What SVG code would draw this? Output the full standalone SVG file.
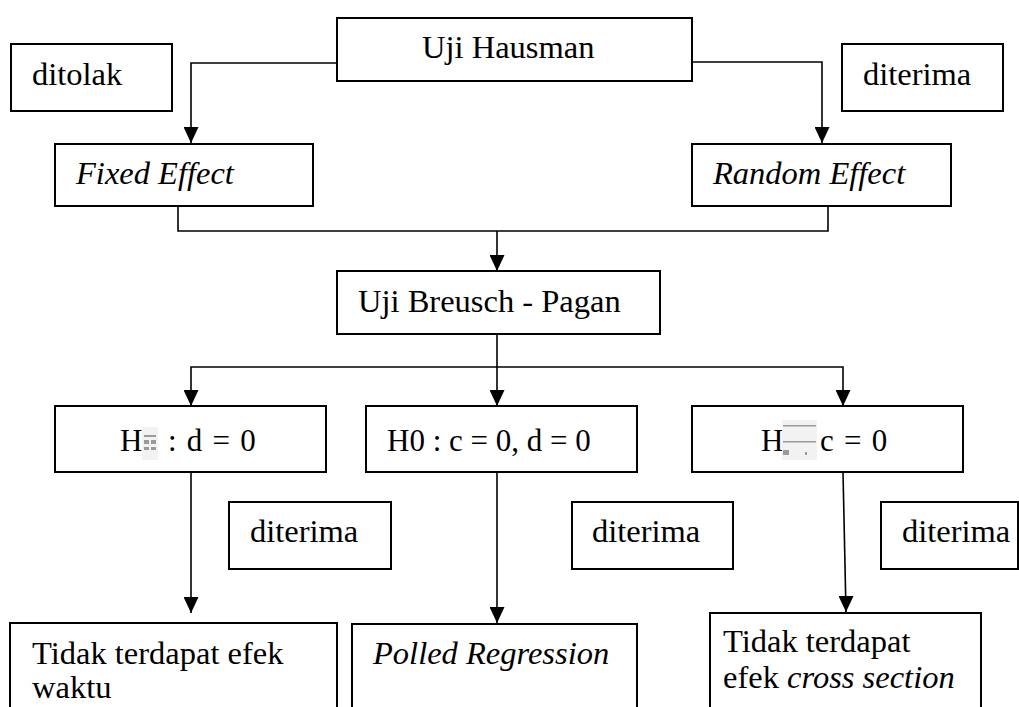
<svg xmlns="http://www.w3.org/2000/svg" width="1019" height="707" viewBox="0 0 1019 707">
  <style>
    .box { fill: #ffffff; stroke: #000000; stroke-width: 2; }
    .txt { font-family: "Liberation Serif", "Times New Roman", serif; font-size: 32.5px; fill: #000000; }
    .eq { font-size: 31px; }
    .math { word-spacing: 2.5px; }
    .it { font-style: italic; }
    .wire { fill: none; stroke: #000000; stroke-width: 1.6; }
    .glyph { fill: #f2f2f2; }
    .glyph-mark { fill: #9a9a9a; }
  </style>
  <defs>
    <marker id="arrowDown" viewBox="0 0 15 16" refX="7.5" refY="16" markerWidth="15" markerHeight="16" markerUnits="userSpaceOnUse" orient="0">
      <path d="M0,0 L15,0 L7.5,16 Z" fill="#000000"/>
    </marker>
  </defs>

  <!-- connectors -->
  <g id="connectors">
    <path class="wire" d="M337,63 H191 V143" marker-end="url(#arrowDown)"/>
    <path class="wire" d="M692,62 H822 V143" marker-end="url(#arrowDown)"/>
    <path class="wire" d="M178,203 V231 H828 V206"/>
    <path class="wire" d="M497,231 V271" marker-end="url(#arrowDown)"/>
    <path class="wire" d="M497,334 V406" marker-end="url(#arrowDown)"/>
    <path class="wire" d="M191,406 V367 H843 V406" marker-start="url(#arrowDown)" marker-end="url(#arrowDown)"/>
    <path class="wire" d="M191,472 V613" marker-end="url(#arrowDown)"/>
    <path class="wire" d="M497,472 V623" marker-end="url(#arrowDown)"/>
    <path class="wire" d="M843,472 L846,612" marker-end="url(#arrowDown)"/>
  </g>

  <g id="uji-hausman">
    <rect class="box" x="337" y="18" width="355" height="63"/>
    <text class="txt" x="422" y="58">Uji Hausman</text>
  </g>

  <g id="ditolak">
    <rect class="box" x="11" y="44" width="161" height="67"/>
    <text class="txt" x="32" y="85">ditolak</text>
  </g>

  <g id="diterima-top">
    <rect class="box" x="842" y="44" width="161" height="67"/>
    <text class="txt" x="863" y="85">diterima</text>
  </g>

  <g id="fixed-effect">
    <rect class="box" x="55" y="144" width="258" height="62"/>
    <text class="txt it" x="76" y="184">Fixed Effect</text>
  </g>

  <g id="random-effect">
    <rect class="box" x="692" y="144" width="259" height="62"/>
    <text class="txt it" x="713" y="184">Random Effect</text>
  </g>

  <g id="uji-breusch-pagan">
    <rect class="box" x="337" y="271" width="323" height="63"/>
    <text class="txt" x="358" y="312">Uji Breusch - Pagan</text>
  </g>

  <g id="h-left">
    <rect class="box" x="55" y="406" width="271" height="66"/>
    <text class="txt eq" x="120" y="451">H</text>
    <rect class="glyph" x="142" y="427" width="16" height="33"/>
    <rect class="glyph-mark" x="144" y="435" width="12" height="2"/>
    <rect class="glyph-mark" x="144" y="440" width="5" height="4"/>
    <rect class="glyph-mark" x="151" y="440" width="5" height="4"/>
    <rect class="glyph-mark" x="144" y="447" width="5" height="3"/>
    <rect class="glyph-mark" x="151" y="447" width="5" height="3"/>
    <text class="txt eq math" x="168" y="451">: d = 0</text>
  </g>

  <g id="h0-middle">
    <rect class="box" x="366" y="406" width="271" height="66"/>
    <text class="txt eq" x="387" y="451">H0 : c = 0, d = 0</text>
  </g>

  <g id="h-right">
    <rect class="box" x="692" y="406" width="271" height="66"/>
    <text class="txt eq" x="761" y="451">H</text>
    <rect class="glyph" x="782" y="420" width="35" height="40"/>
    <rect class="glyph-mark" x="783" y="425" width="33" height="1.5"/>
    <rect class="glyph-mark" x="783" y="441" width="33" height="1.5"/>
    <rect class="glyph-mark" x="783" y="450" width="6" height="5"/>
    <rect class="glyph-mark" x="805" y="452" width="2" height="3"/>
    <text class="txt eq math" x="820" y="451">c = 0</text>
  </g>

  <g id="diterima-left">
    <rect class="box" x="229" y="502" width="162" height="67"/>
    <text class="txt" x="250" y="542">diterima</text>
  </g>

  <g id="diterima-middle">
    <rect class="box" x="572" y="502" width="161" height="67"/>
    <text class="txt" x="592" y="542">diterima</text>
  </g>

  <g id="diterima-right">
    <rect class="box" x="881" y="502" width="137" height="67"/>
    <text class="txt" x="902" y="542">diterima</text>
  </g>

  <g id="tidak-efek-waktu">
    <rect class="box" x="10" y="623" width="327" height="100"/>
    <text class="txt" x="32" y="664">Tidak terdapat efek</text>
    <text class="txt" x="32" y="698">waktu</text>
  </g>

  <g id="polled-regression">
    <rect class="box" x="352" y="624" width="285" height="100"/>
    <text class="txt it" x="373" y="664">Polled Regression</text>
  </g>

  <g id="tidak-efek-cross-section">
    <rect class="box" x="710" y="613" width="271" height="110"/>
    <text class="txt" x="723" y="652">Tidak terdapat</text>
    <text class="txt" x="723" y="688">efek <tspan class="it">cross section</tspan></text>
  </g>
</svg>
